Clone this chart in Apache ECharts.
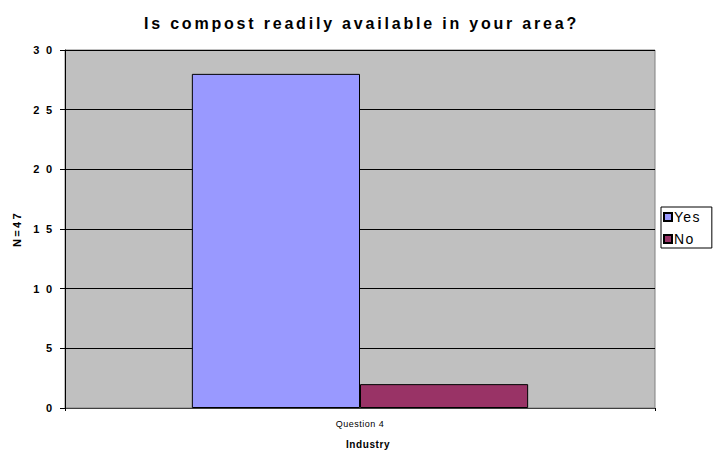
<!DOCTYPE html>
<html><head><meta charset="utf-8">
<script src="https://cdn.jsdelivr.net/npm/echarts@6/dist/echarts.min.js"></script>
<style>html,body{margin:0;padding:0;background:#fff}#c{width:723px;height:455px}</style>
</head><body><div id="c"></div>
<script>
const categories = ["Question 4"];
const seriesNames = ["Yes", "No"];
const yesValues = [28];
const noValues = [2];
const yTickLabels = ["0", "5", "1 0", "1 5", "2 0", "2 5", "3 0"];
const title = "Is compost readily available in your area?";
const xName = "Industry";
const yName = "N=47";

const chart = echarts.init(document.getElementById('c'), null, {renderer: 'svg'});
const F = 'Liberation Sans, Arial, sans-serif';
chart.setOption({
  animation: false,
  title: {text: title, left: 'center', top: 10,
    textStyle: {fontFamily: F, fontSize: 16, fontWeight: 'bold', color: '#000'}},
  grid: {left: 65, right: 68, top: 50, bottom: 47, outerBoundsMode: 'none', containLabel: false,
    show: true, backgroundColor: '#C0C0C0', borderColor: '#808080', borderWidth: 1},
  legend: {data: seriesNames, orient: 'vertical', left: 661, top: 207,
    itemWidth: 8, itemHeight: 8, itemGap: 8, icon: 'rect',
    padding: [3, 15, 2, 2], borderColor: '#000', borderWidth: 1,
    textStyle: {fontFamily: F, fontSize: 14, color: '#000', padding: [0, 0, 0, -3]}},
  xAxis: {type: 'category', data: categories, name: xName, nameLocation: 'middle', nameGap: 31,
    nameTextStyle: {fontFamily: F, fontSize: 10, fontWeight: 'bold', color: '#000', padding: [0, 0, 0, 16]},
    axisLine: {lineStyle: {color: '#404040', width: 1}},
    axisTick: {show: true, alignWithLabel: false, length: 3, lineStyle: {color: '#000'}},
    axisLabel: {fontFamily: F, fontSize: 9, color: '#000', margin: 11}},
  yAxis: {type: 'value', min: 0, max: 30, interval: 5, name: yName, nameLocation: 'middle', nameGap: 43, nameRotate: 90,
    nameTextStyle: {fontFamily: F, fontSize: 11, fontWeight: 'bold', color: '#000'},
    axisLine: {show: true, lineStyle: {color: '#000', width: 1}},
    axisTick: {show: true, length: 5, lineStyle: {color: '#000'}},
    axisLabel: {fontFamily: F, fontSize: 11, fontWeight: 'bold', color: '#000', margin: 11,
      formatter: v => yTickLabels[Math.round(v / 5)]},
    splitLine: {show: true, lineStyle: {color: '#000', width: 1}}},
  series: [
    {name: seriesNames[0], type: 'bar', data: yesValues, barGap: '0%', barCategoryGap: '43%',
      itemStyle: {color: '#9999FF', borderColor: '#000', borderWidth: 1}},
    {name: seriesNames[1], type: 'bar', data: noValues,
      itemStyle: {color: '#993366', borderColor: '#000', borderWidth: 1}}
  ]
});

// letter spacing to mimic the reference's spaced-out lettering
const spacing = {};
spacing[title] = 2.8;
spacing[xName] = 0.6;
spacing[yName] = 2.3;
spacing[categories[0]] = 0.5;
seriesNames.forEach(n => spacing[n] = 1.3);
yTickLabels.forEach(t => spacing[t] = 1.8);
function applySpacing() {
  document.querySelectorAll('#c svg text').forEach(t => {
    const s = spacing[t.textContent];
    if (s !== undefined) t.setAttribute('letter-spacing', s + 'px');
  });
}
applySpacing();
chart.on('finished', applySpacing);
</script></body></html>
